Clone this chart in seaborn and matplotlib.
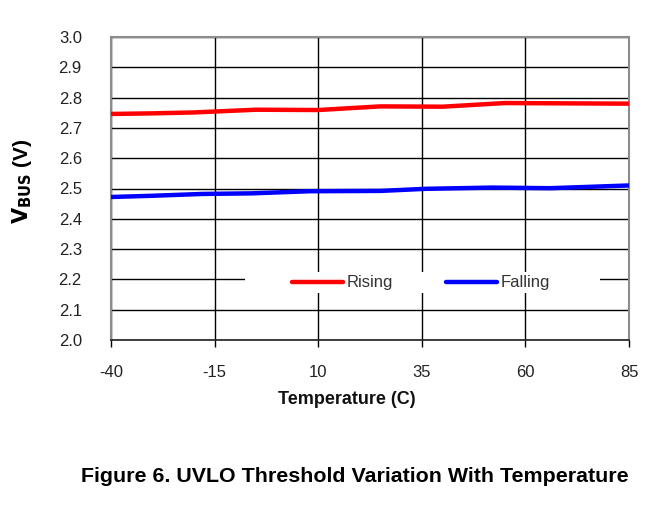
import matplotlib
matplotlib.use("Agg")
import matplotlib.pyplot as plt
import seaborn as sns
import pandas as pd
from matplotlib.patches import Rectangle
from matplotlib.lines import Line2D

temp_rising = [-40, -30, -20, -5, 10, 25, 40, 55, 70, 85]
v_rising = [2.746, 2.748, 2.751, 2.760, 2.759, 2.771, 2.770, 2.782, 2.781, 2.780]
temp_falling = [-40, -30, -18, -6, 8, 25, 36, 52, 66, 85]
v_falling = [2.472, 2.476, 2.482, 2.484, 2.491, 2.492, 2.499, 2.503, 2.501, 2.510]
x_ticks = [-40, -15, 10, 35, 60, 85]
y_ticks = [2.0, 2.1, 2.2, 2.3, 2.4, 2.5, 2.6, 2.7, 2.8, 2.9, 3.0]

df = pd.concat([
    pd.DataFrame({"T": temp_rising, "V": v_rising, "s": "Rising"}),
    pd.DataFrame({"T": temp_falling, "V": v_falling, "s": "Falling"}),
])

sns.set_theme(style="white")
plt.rcParams['font.family'] = ['Liberation Sans', 'DejaVu Sans']

fig = plt.figure(figsize=(6.69, 5.08), dpi=100)
ax = fig.add_axes([111/669, 1-340/508, 518/669, 303/508])

sns.lineplot(data=df, x="T", y="V", hue="s", palette={"Rising": "#ff0000", "Falling": "#0000ff"},
             linewidth=3.2, ax=ax, legend=False, sort=True, zorder=3)

ax.set_xlim(-40, 85)
ax.set_ylim(2.0, 3.0)
ax.set_xticks(x_ticks)
ax.set_yticks(y_ticks)
ax.set_xticklabels([str(t) for t in x_ticks])
ax.set_yticklabels([f"{v:.1f}" for v in y_ticks])
ax.grid(True, color="black", linewidth=1.0, zorder=1)
ax.set_axisbelow(True)
for s in ["left", "right", "top"]:
    ax.spines[s].set_color("#8c8c8c")
    ax.spines[s].set_linewidth(1.5)
ax.spines["bottom"].set_color("#202020")
ax.spines["bottom"].set_linewidth(1.2)
ax.tick_params(axis="x", which="both", bottom=True, length=5, width=1, color="black",
               labelsize=12, labelcolor="#222222", pad=13)
ax.tick_params(axis="y", left=False, labelsize=12, labelcolor="#222222", pad=15)

# white legend background box
ax.add_patch(Rectangle(((245-111)/518, (340-293)/303), (600-245)/518, 21/303,
                       transform=ax.transAxes, facecolor="white", edgecolor="none", zorder=2))
handles = [Line2D([0], [0], color="#ff0000", lw=3.2, solid_capstyle="round"),
           Line2D([0], [0], color="#0000ff", lw=3.2, solid_capstyle="round")]
leg = ax.legend(handles, ["Rising", "Falling"], loc="center", bbox_to_anchor=(0.598, (340-283)/303),
                ncol=2, frameon=False, handlelength=3.05, handletextpad=0.22, columnspacing=3.2,
                fontsize=12, borderpad=0.1)
for t in leg.get_texts():
    t.set_color("#333333")
leg.set_zorder(4)

ax.set_xlabel("")
ax.set_ylabel("")
fig.text(347/669, 1-399/508, "Temperature (C)", ha="center", va="center",
         fontsize=13, fontweight="bold", color="#111111")
fig.text(22/669, 1-181/508, r"$\mathbf{V_{BUS}}$ (V)", rotation=90, ha="center", va="center",
         fontsize=15, fontweight="bold", color="black")
fig.text(355/669, 1-477/508, "Figure 6. UVLO Threshold Variation With Temperature",
         ha="center", va="center", fontsize=15.4, fontweight="bold", color="black")

fig.savefig("out.png", dpi=100)
